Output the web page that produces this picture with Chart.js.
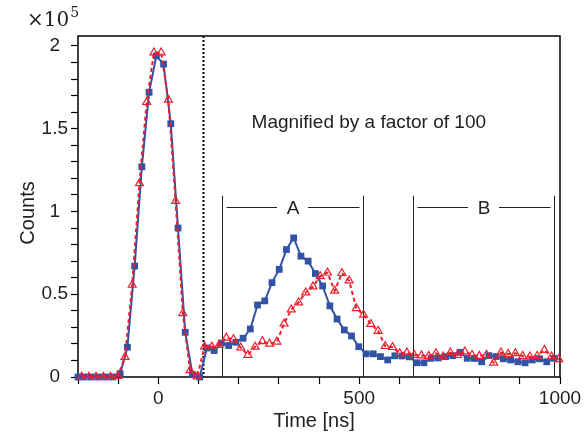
<!DOCTYPE html>
<html>
<head>
<meta charset="utf-8">
<script src="https://cdn.jsdelivr.net/npm/chart.js@4.4.1/dist/chart.umd.min.js"></script>
<style>
  html, body { margin: 0; padding: 0; background: #fff; }
  canvas { display: block; }
</style>
</head>
<body>
<canvas id="chart" width="585" height="435"></canvas>
<script>
// time bins [ns] and counts (x 10^5)
const timeBlue = [-200, -185, -167, -149, -131, -113, -95, -77, -59, -41, -23, -5, 13, 31, 49, 67, 85, 103, 121, 139,
  157, 175, 193, 211, 229, 247, 265, 283, 301, 319, 337, 355, 373, 391, 409, 427, 445, 463, 481, 499,
  517, 535, 553, 571, 589, 607, 625, 643, 661, 679, 697, 715, 733, 751, 769, 787, 805, 823, 841, 859,
  877, 895, 913, 931, 949, 967, 985];
const countsBlue = [0, 0, 0, 0, 0, 0, 0.02, 0.18, 0.67, 1.27, 1.72, 1.94, 1.89, 1.53, 0.90, 0.27, 0.015, 0, 0.175, 0.16,
  0.205, 0.19, 0.21, 0.234, 0.29, 0.435, 0.46, 0.57, 0.65, 0.77, 0.84, 0.73, 0.70, 0.625, 0.55, 0.43, 0.35, 0.284, 0.248, 0.183,
  0.14, 0.14, 0.123, 0.103, 0.128, 0.127, 0.122, 0.086, 0.086, 0.113, 0.115, 0.123, 0.129, 0.149, 0.113, 0.112, 0.092, 0.129, 0.123, 0.11,
  0.103, 0.092, 0.086, 0.103, 0.11, 0.092, 0.113];

const timeRed = [-191, -173, -155, -137, -119, -101, -83, -65, -47, -29, -11, 7, 25, 43, 61, 79, 97, 115, 133, 151,
  169, 187, 205, 223, 241, 259, 277, 295, 313, 331, 349, 367, 385, 403, 421, 439, 457, 475, 493, 511,
  529, 547, 565, 583, 601, 619, 637, 655, 673, 691, 709, 727, 745, 763, 781, 799, 817, 835, 853, 871,
  889, 907, 925, 943, 961, 979, 997];
const countsRed = [0, 0, 0, 0, 0, 0.005, 0.12, 0.556, 1.17, 1.66, 1.96, 1.96, 1.674, 1.063, 0.385, 0.04, 0.002, 0.183, 0.183, 0.193,
  0.237, 0.228, 0.178, 0.133, 0.182, 0.216, 0.2, 0.213, 0.322, 0.407, 0.45, 0.51, 0.546, 0.608, 0.63, 0.52, 0.627, 0.582, 0.415, 0.375,
  0.32, 0.278, 0.186, 0.18, 0.143, 0.147, 0.133, 0.13, 0.127, 0.143, 0.123, 0.147, 0.133, 0.153, 0.133, 0.127, 0.133, 0.086, 0.147, 0.139,
  0.143, 0.127, 0.123, 0.127, 0.163, 0.123, 0.107];

const xMin = -200, xMax = 1000, xStep = 100;
const yMin = 0, yMax = 2.06, yStep = 0.1, yLast = 2;
const xLabeled = [0, 500, 1000];
const yLabeled = [0, 0.5, 1, 1.5, 2];

const magnifyStart = 110;             // dotted line
const regionA = [158, 510];
const regionB = [634, 985];
const regionTop = 1.095;
const regionLabelY = 1.025;
const noteText = 'Magnified by a factor of 100';
const notePos = { x: 524, y: 1.506 };

const BLUE = 'rgb(50, 82, 165)';
const RED = 'rgb(236, 32, 44)';
const TEXT = '#222';
const FONT = '"Liberation Sans", Arial, sans-serif';

const toXY = (xs, ys) => xs.map((x, i) => ({ x, y: ys[i] }));

function tickList(from, to, step) {
  const out = [];
  const n = Math.round((to - from) / step);
  for (let i = 0; i <= n; i++) out.push({ value: Math.round((from + i * step) * 1000) / 1000 });
  return out;
}

const overlay = {
  id: 'overlay',
  beforeDatasetsDraw(chart) {
    const { ctx, chartArea: a, scales: { x, y } } = chart;
    ctx.save();
    // frame
    ctx.strokeStyle = '#000';
    ctx.lineWidth = 1.5;
    ctx.strokeRect(a.left, a.top, a.right - a.left, a.bottom - a.top);

    // dotted line
    const dx = Math.round(x.getPixelForValue(magnifyStart)) + 0.5;
    ctx.lineWidth = 2;
    ctx.setLineDash([2, 2]);
    ctx.beginPath();
    ctx.moveTo(dx, a.top);
    ctx.lineTo(dx, a.bottom);
    ctx.stroke();
    ctx.setLineDash([]);

    // regions A and B
    ctx.lineWidth = 1;
    ctx.strokeStyle = '#222';
    const top = y.getPixelForValue(regionTop);
    const mid = Math.round(y.getPixelForValue(regionLabelY)) + 0.5;
    [[regionA, 'A'], [regionB, 'B']].forEach(([r, name]) => {
      const l = Math.round(x.getPixelForValue(r[0])) + 0.5;
      const rr = Math.round(x.getPixelForValue(r[1])) + 0.5;
      const c = (l + rr) / 2;
      ctx.beginPath();
      ctx.moveTo(l, top); ctx.lineTo(l, a.bottom);
      ctx.moveTo(rr, top); ctx.lineTo(rr, a.bottom);
      ctx.moveTo(l + 4, mid); ctx.lineTo(c - 16, mid);
      ctx.moveTo(c + 15, mid); ctx.lineTo(rr - 4, mid);
      ctx.stroke();
      ctx.fillStyle = TEXT;
      ctx.font = '19px ' + FONT;
      ctx.textAlign = 'center';
      ctx.textBaseline = 'middle';
      ctx.fillText(name, c, mid + 1);
    });
    ctx.restore();
  },
  afterDraw(chart) {
    const { ctx, scales: { x, y } } = chart;
    ctx.save();
    ctx.fillStyle = TEXT;
    ctx.font = '19px ' + FONT;
    ctx.textAlign = 'center';
    ctx.textBaseline = 'alphabetic';
    ctx.fillText(noteText, x.getPixelForValue(notePos.x), y.getPixelForValue(notePos.y));

    // axis titles
    ctx.font = '20px ' + FONT;
    ctx.textBaseline = 'middle';
    ctx.fillText('Time [ns]', 314, 421);
    ctx.save();
    ctx.translate(28, 213);
    ctx.rotate(-Math.PI / 2);
    ctx.fillText('Counts', 0, 0);
    ctx.restore();

    // multiplier
    ctx.textAlign = 'left';
    ctx.textBaseline = 'alphabetic';
    ctx.font = '20px "DejaVu Serif", "Liberation Serif", serif';
    ctx.fillText('\u00d710', 27, 26);
    const w = ctx.measureText('\u00d710').width;
    ctx.font = '14px "DejaVu Serif", "Liberation Serif", serif';
    ctx.fillText('5', 27 + w + 1, 17);
    ctx.restore();
  }
};

new Chart(document.getElementById('chart'), {
  type: 'line',
  plugins: [overlay],
  data: {
    datasets: [
      {
        label: 'blue',
        data: toXY(timeBlue, countsBlue),
        borderColor: BLUE,
        borderWidth: 2,
        pointStyle: 'rect',
        pointRadius: 4.8,
        pointBackgroundColor: BLUE,
        pointBorderColor: BLUE,
        pointBorderWidth: 0,
        clip: false,
        order: 1
      },
      {
        label: 'red',
        data: toXY(timeRed, countsRed),
        borderColor: RED,
        borderWidth: 2,
        borderDash: [4, 3],
        pointStyle: 'triangle',
        pointRadius: 4.6,
        pointBackgroundColor: 'rgba(255,255,255,0)',
        pointBorderColor: RED,
        pointBorderWidth: 1.2,
        clip: false,
        order: 0
      }
    ]
  },
  options: {
    responsive: false,
    animation: false,
    devicePixelRatio: 1,
    layout: { padding: { left: 0, right: 25, top: 36, bottom: 0 } },
    plugins: { legend: { display: false }, tooltip: { enabled: false } },
    scales: {
      x: {
        type: 'linear',
        min: xMin,
        max: xMax,
        afterFit: (s) => { s.height = 58; },
        afterBuildTicks: (s) => { s.ticks = tickList(xMin, xMax, xStep); },
        border: { display: false },
        grid: { drawOnChartArea: false, drawTicks: true, tickLength: 7, tickColor: '#000', tickWidth: 1.2 },
        ticks: {
          autoSkip: false,
          maxRotation: 0,
          padding: 3,
          color: TEXT,
          font: { family: FONT, size: 19 },
          callback: (v) => (xLabeled.includes(v) ? String(v) : '')
        }
      },
      y: {
        min: yMin,
        max: yMax,
        afterFit: (s) => { s.width = 78; },
        afterBuildTicks: (s) => { s.ticks = tickList(yMin, yLast, yStep); },
        border: { display: false },
        grid: { drawOnChartArea: false, drawTicks: true, tickLength: 7, tickColor: '#000', tickWidth: 1.2 },
        ticks: {
          autoSkip: false,
          crossAlign: 'center',
          padding: 3,
          color: TEXT,
          font: { family: FONT, size: 19 },
          callback: (v) => (yLabeled.some((l) => Math.abs(l - v) < 1e-6) ? String(v) : '')
        }
      }
    }
  }
});
</script>
</body>
</html>
